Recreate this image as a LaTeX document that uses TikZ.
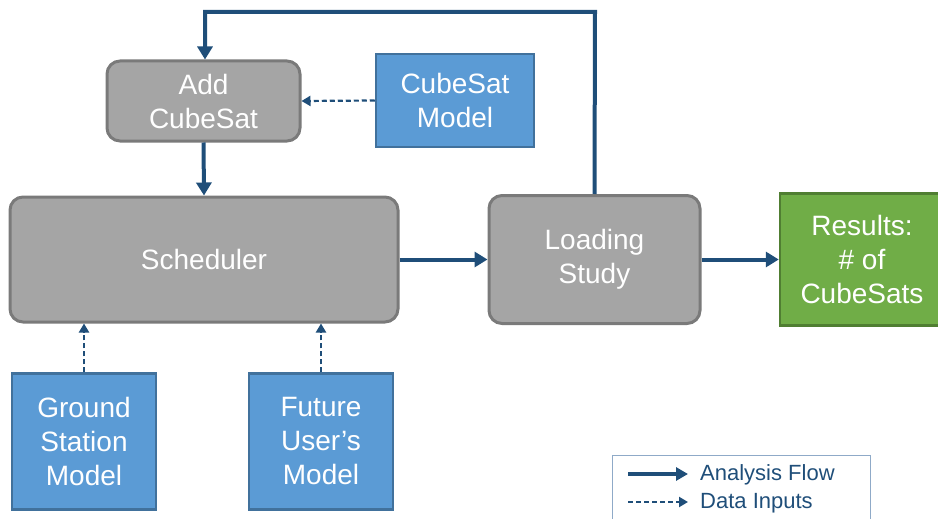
\documentclass[tikz,border=0pt]{standalone}
\usepackage{fontspec}
\setmainfont{Liberation Sans}
\usetikzlibrary{arrows.meta}

\definecolor{flowblue}{HTML}{1F4E79}
\definecolor{procgray}{HTML}{A5A5A5}
\definecolor{procedge}{HTML}{7A7A7A}
\definecolor{inpblue}{HTML}{5B9BD5}
\definecolor{inpedge}{HTML}{41719C}
\definecolor{resgreen}{HTML}{70AD47}
\definecolor{resedge}{HTML}{507E32}
\definecolor{legedge}{HTML}{8FAAC8}

\tikzset{
  boxtext/.style={text=white, align=center, inner sep=0pt,
    font=\fontsize{28}{34}\selectfont},
  proc/.style={boxtext, draw=procedge, fill=procgray, line width=3pt, rounded corners=13pt},
  inp/.style={boxtext, draw=inpedge, fill=inpblue, line width=2.5pt},
  res/.style={boxtext, draw=resedge, fill=resgreen, line width=2.5pt},
  flow/.style={draw=flowblue, line width=4pt, -{Triangle[length=13pt,width=15pt]}},
  datain/.style={draw=flowblue, line width=2.2pt, dash pattern=on 5pt off 3pt,
    -{Triangle[length=9pt,width=10pt]}}
}

\begin{document}
\begin{tikzpicture}[x=1pt, y=-1pt]
    \useasboundingbox (0,0) rectangle (938,519);

    % boxes
    \node[proc, minimum width=193pt, minimum height=80pt] (add) at (203.5,101) {Add\\CubeSat};
    \node[inp, minimum width=158pt, minimum height=93pt] (csm) at (455,100.5) {CubeSat\\Model};
    \node[proc, minimum width=388pt, minimum height=125pt] (sched) at (204,259.5) {Scheduler};
    \node[proc, minimum width=211pt, minimum height=128pt] (load) at (594.5,259.5) {Loading\\Study};
    \node[res, minimum width=164pt, minimum height=132pt] (res) at (862,259.5) {Results:\\\# of\\CubeSats};
    \node[inp, minimum width=144pt, minimum height=136pt] (gsm) at (84,441.5) {Ground\\Station\\Model};
    \node[inp, minimum width=144pt, minimum height=136pt] (fum) at (321,441.5) {Future\\User's\\Model};

    % analysis flow
    \coordinate (loopr) at (595,12);
    \coordinate (loopl) at (205,12);
    \draw[flow] (load.north) -- (loopr) -- (loopl) -- (loopl |- add.north);
    \draw[flow] (add.south) -- (sched.north);
    \draw[flow] (sched.east) -- (load.west);
    \draw[flow] (load.east) -- (res.west);

    % data inputs
    \draw[datain] (csm.west) -- (add.east);
    \draw[datain] (gsm.north) -- (gsm.north |- sched.south);
    \draw[datain] (fum.north) -- (fum.north |- sched.south);

    % legend
    \node[draw=legedge, line width=1pt, minimum width=258pt, minimum height=80pt, anchor=north west] (leg) at (612,455) {};
    \coordinate (fa) at (628,474);
    \coordinate (fb) at (688,474);
    \coordinate (da) at (628,502);
    \coordinate (db) at (688,502);
    \draw[flow, -{Triangle[length=12pt,width=13pt]}] (fa) -- (fb);
    \draw[datain] (da) -- (db);
    \node[anchor=west, text=flowblue, inner sep=0pt, font=\fontsize{22}{24}\selectfont] (lfa) at (700,475) {Analysis Flow};
    \node[anchor=west, text=flowblue, inner sep=0pt, font=\fontsize{22}{24}\selectfont] (lda) at (700,503) {Data Inputs};
\end{tikzpicture}
\end{document}
